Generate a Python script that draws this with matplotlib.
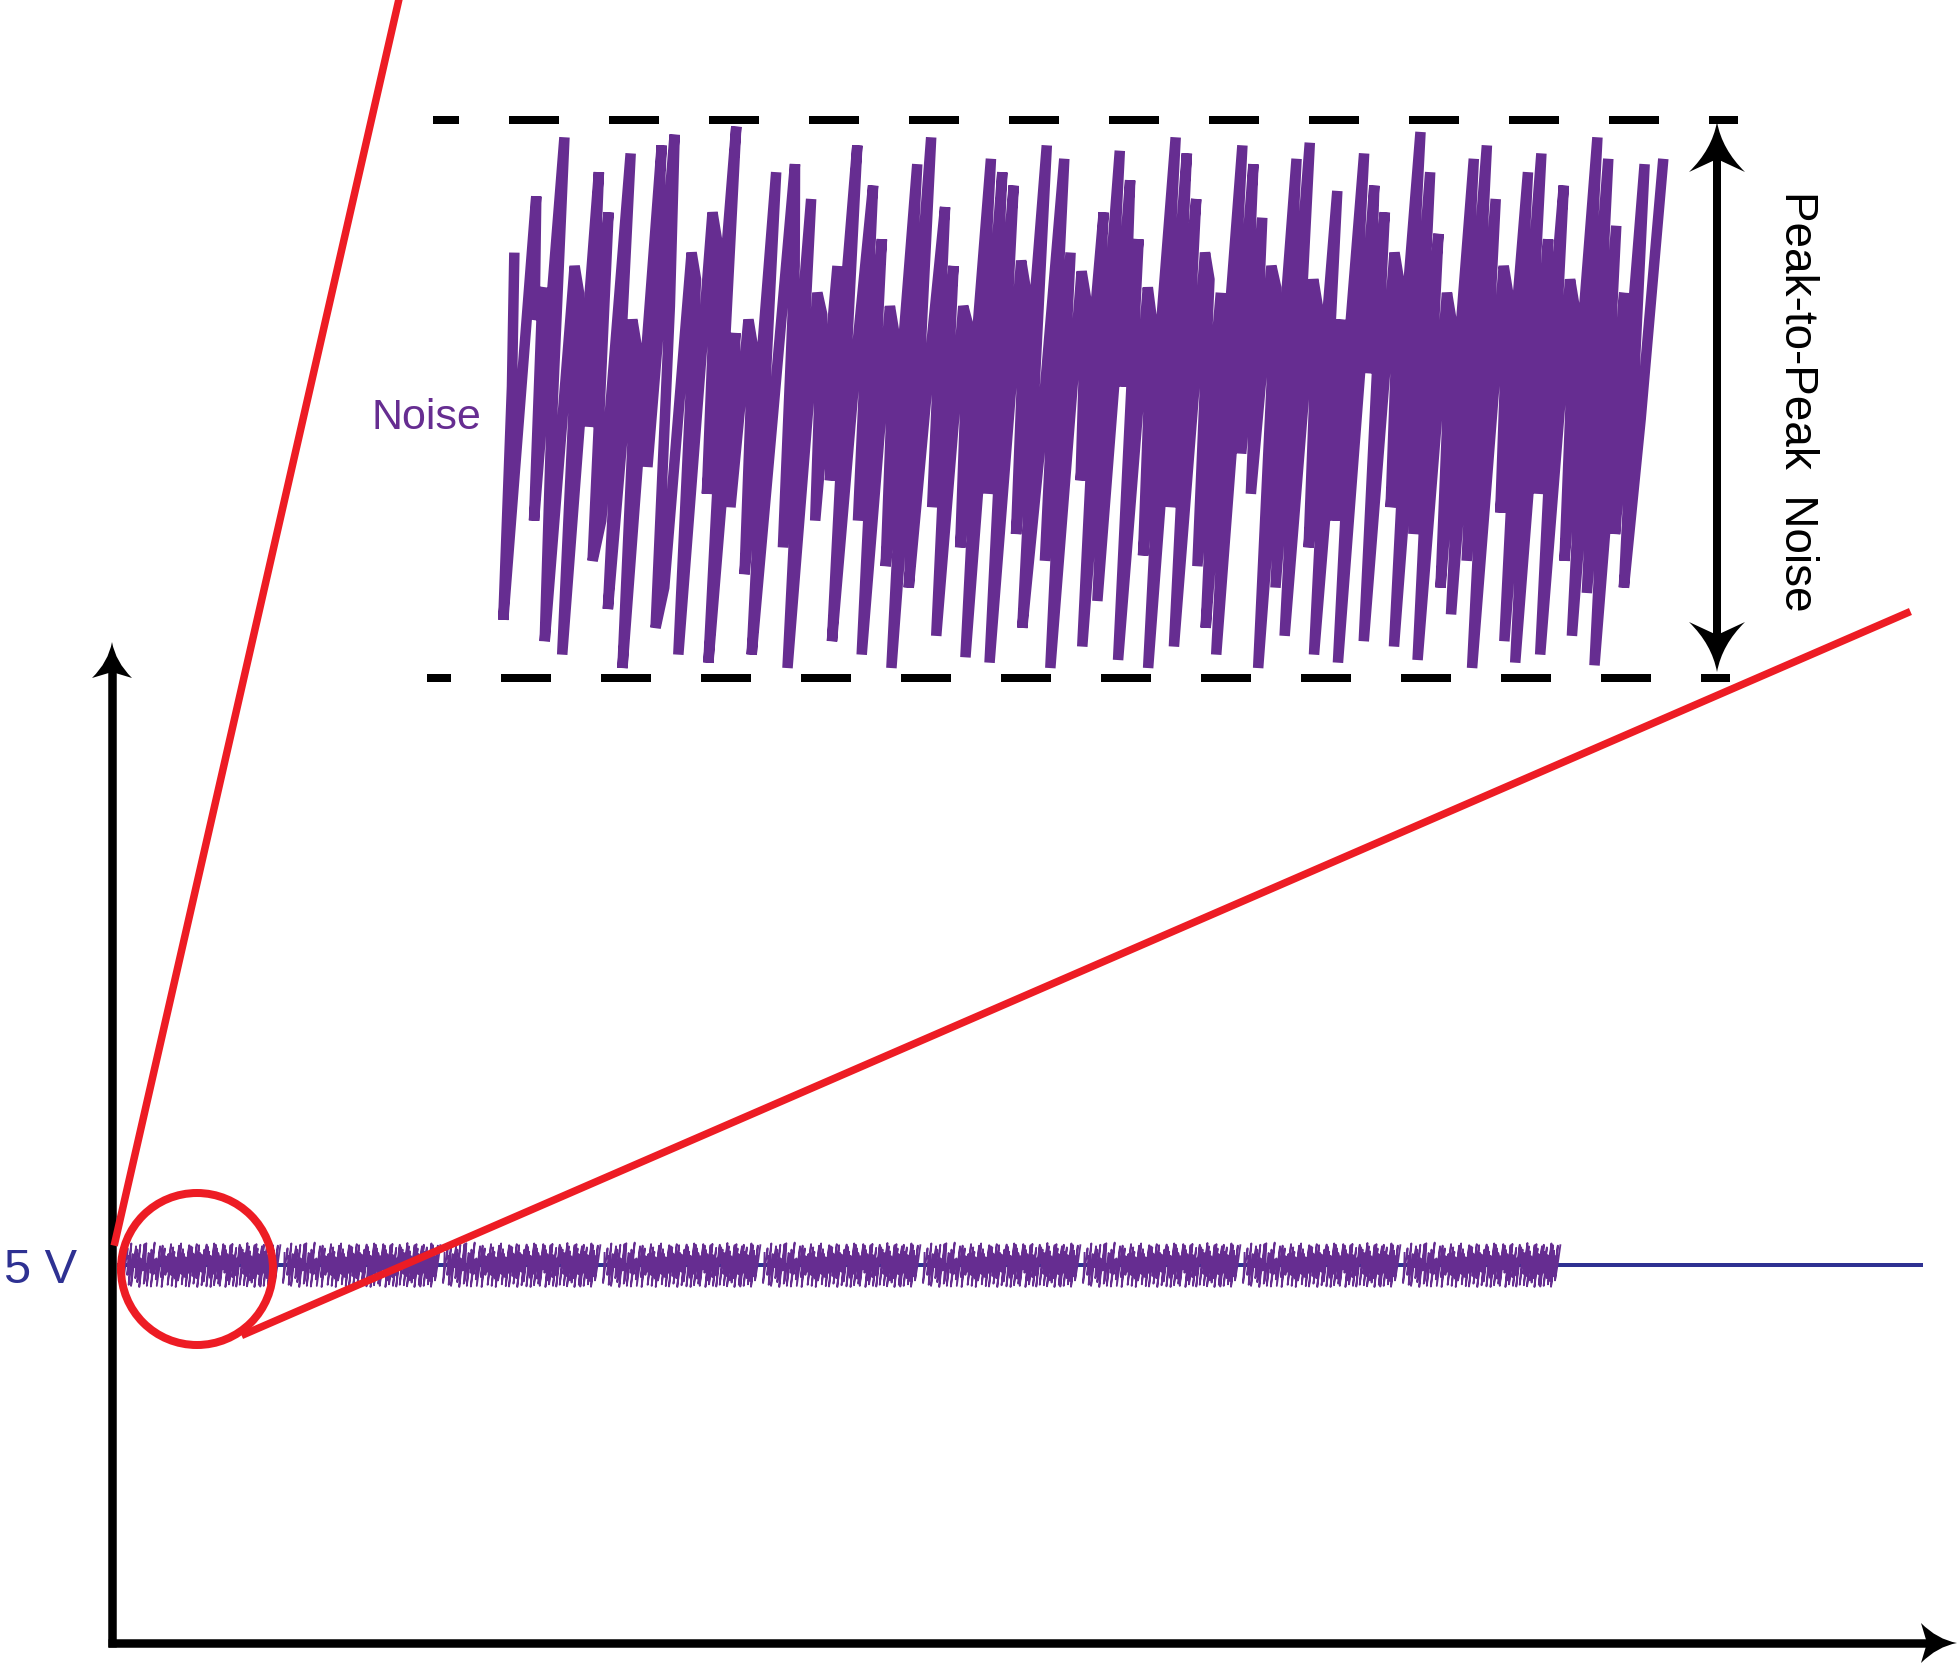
import numpy as np
import matplotlib
matplotlib.use("Agg")
import matplotlib.pyplot as plt
from matplotlib.path import Path
from matplotlib.patches import PathPatch, Circle

plt.rcParams['font.family'] = ['Liberation Sans', 'DejaVu Sans']
plt.rcParams['lines.scale_dashes'] = False

# noise trace (+1 = top of band, -1 = bottom)
noise_v = [
    0.55, 0.05, -0.82, 0.76, 0.30, 0.42, -0.45, 0.98, -0.20, -0.90,
    0.50, 0.40, -0.95, 0.85, -0.10, 0.70, -0.60, -0.45, 0.92, -0.78,
    0.30, 0.20, -1.00, 0.95, -0.25, 0.99, 0.35, -0.85, -0.70, 0.55,
    0.45, -0.95, 0.70, 0.60, -0.35, 1.02, -0.98, 0.25, -0.40, 0.30,
    0.20, -0.65, 0.85, -0.95, -0.05, 0.88, 0.50, -0.55, 0.75, -1.00,
    0.40, 0.32, -0.45, 0.50, -0.30, 0.95, -0.90, 0.15, 0.80, -0.45,
    0.60, -0.95, 0.35, 0.25, -0.62, 0.88, -1.00, 0.98, -0.70, 0.10,
    0.72, -0.40, 0.50, -0.88, 0.35, 0.28, -0.55, 0.90, -0.96, 0.85,
    -0.35, 0.80, -0.98, 0.52, 0.42, -0.50, 0.95, -0.85, -0.20, 0.90,
    -0.60, 0.55, -1.00, 0.48, 0.38, -0.30, 0.70, -0.92, 0.93, -0.75,
    0.82, 0.05, 0.60, -0.97, 0.42, 0.30, -0.58, 0.98, -1.00, 0.92,
    -0.40, 0.75, -0.92, 0.55, 0.45, -0.62, 0.40, -0.85, 0.95, -0.95,
    0.88, -0.20, 0.68, -0.35, 0.50, 0.42, -1.00, 0.90, -0.70, 0.96,
    -0.88, 0.45, 0.35, -0.55, 0.78, -0.95, 0.30, -0.45, 0.92, -0.98,
    0.80, 0.10, 0.70, -0.90, 0.55, 0.45, -0.40, 1.00, -0.92, 0.85,
    -0.50, 0.62, -0.97, 0.40, 0.30, -0.70, 0.90, -0.80, 0.95, -0.60,
    0.75, -1.00, 0.50, 0.40, -0.42, 0.85, -0.90, 0.92, -0.98, 0.60,
    -0.35, 0.80, -0.95, 0.45, 0.35, -0.60, 0.98, -0.88, 0.90, -0.72,
    0.65, -0.99, 0.40, -0.50, 0.88, -0.70, -0.07, 0.90,
]
n_copies = 9          # the small trace repeats the pattern
dc_label = "5 V"
noise_label = "Noise"
pp_label = "Peak-to-Peak  Noise"

RED = "#ED1C24"
PURPLE = "#662D91"
BLUE = "#2E3192"
PX = 0.72  # points per pixel at dpi 100

fig = plt.figure(figsize=(19.6, 16.65), dpi=100)
ax = fig.add_axes([0, 0, 1, 1])
ax.set_xlim(0, 1960)
ax.set_ylim(1665, 0)
ax.axis('off')


def arrow_head(tip, ang, length, half, notch, z=6):
    loc = np.array([(0, 0), (-0.55 * length, 0.18 * half), (-length, half),
                    (-length + notch, 0), (-length, -half),
                    (-0.55 * length, -0.18 * half), (0, 0)])
    a = np.deg2rad(ang)
    rot = np.array([[np.cos(a), -np.sin(a)], [np.sin(a), np.cos(a)]])
    pts = loc @ rot.T + np.array(tip)
    codes = [Path.MOVETO, Path.CURVE3, Path.CURVE3, Path.LINETO,
             Path.LINETO, Path.CURVE3, Path.CURVE3]
    ax.add_patch(PathPatch(Path(pts, codes), fc='black', ec='none', zorder=z))


# big zoomed noise
v = np.array(noise_v)
t = np.linspace(505, 1648, len(v))
big_x = t + 17 * v
big_y = 401 - 268 * v
ax.plot(big_x, big_y, color=PURPLE, lw=10.5 * PX, solid_joinstyle='bevel',
        solid_capstyle='butt', zorder=3)

# dashed peak levels
ax.plot([433, 1738], [121, 121], color='black', lw=8 * PX,
        linestyle=(24 * PX, (50 * PX, 50 * PX)), zorder=2)
ax.plot([427, 1730], [679, 679], color='black', lw=8 * PX,
        linestyle=(26 * PX, (50 * PX, 50 * PX)), zorder=2)

# peak-to-peak arrow
ax.plot([1717, 1717], [150, 645], color='black', lw=8 * PX,
        solid_capstyle='butt', zorder=5)
arrow_head((1717, 123), -90, 50, 28, 13)
arrow_head((1717, 673), 90, 50, 28, 13)
ax.text(1797, 401, pp_label, rotation=-90, ha='center', va='center',
        fontsize=33, color='black')
ax.text(426, 418, noise_label, ha='center', va='center', fontsize=31,
        color=PURPLE)

# DC level with small noise
ax.plot([119, 1921], [1266, 1266], color=BLUE, lw=4 * PX, zorder=2)
block = 160.0
for k in range(n_copies):
    sx = 121 + k * block + (big_x - 488) * block / 1180
    sy = 1266 - 22 * v
    ax.plot(sx, sy, color=PURPLE, lw=1.8 * PX, zorder=3)
ax.text(40, 1271, dc_label, ha='center', va='center', fontsize=35, color=BLUE)

# axes
ax.plot([112, 112], [1648, 670], color='black', lw=8.5 * PX,
        solid_capstyle='butt', zorder=4)
ax.plot([108, 1930], [1644, 1644], color='black', lw=8.5 * PX,
        solid_capstyle='butt', zorder=4)
arrow_head((112, 643), -90, 36, 20, 6)
arrow_head((1957, 1644), 0, 36, 20, 6)

# magnifier
ax.add_patch(Circle((197, 1270), 76, fill=False, ec=RED, lw=8 * PX, zorder=6))
ax.plot([399, 115], [0, 1243], color=RED, lw=7.5 * PX, zorder=6)
ax.plot([245, 1907], [1335, 614], color=RED, lw=7.5 * PX, zorder=6)

fig.savefig("out.png", dpi=100)
